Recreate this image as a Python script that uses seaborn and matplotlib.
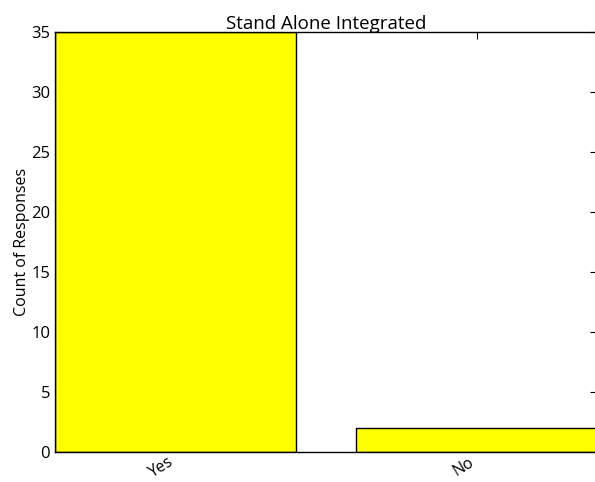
import matplotlib
matplotlib.use("Agg")
import matplotlib.pyplot as plt
import seaborn as sns
import pandas as pd

categories = ["Yes", "No"]
counts = [35, 2]
title = "Stand Alone Integrated"
ylabel = "Count of Responses"

sns.set_style("white")
plt.rcParams['font.family'] = ['Open Sans', 'DejaVu Sans']
plt.rcParams['text.color'] = 'black'
plt.rcParams['axes.labelcolor'] = 'black'
plt.rcParams['xtick.color'] = 'black'
plt.rcParams['ytick.color'] = 'black'

df = pd.DataFrame({"resp": categories, "count": counts})

fig = plt.figure(figsize=(5.95, 4.82), dpi=100)
ax = fig.add_axes([55/595, 30/482, 542/595, 420/482])
sns.barplot(data=df, x="resp", y="count", color="#ffff00", saturation=1,
            edgecolor="black", linewidth=1.0, width=0.8, ax=ax)
ax.set_xlim(-0.4, 1.4)
ax.set_ylim(0, 35)
ax.set_yticks(range(0, 36, 5))
ax.set_title(title, fontsize=13.5, pad=2, color="black")
ax.set_ylabel(ylabel, fontsize=11.5, color="black", labelpad=1)
ax.set_xlabel("")
for s in ax.spines.values():
    s.set_color("black")
    s.set_linewidth(1.0)
ax.tick_params(direction="in", length=5, width=0.8, top=True, right=True,
               labelsize=12, color="black", labelcolor="black", left=True, bottom=True)
ax.tick_params(axis="x", pad=2)
plt.setp(ax.get_xticklabels(), rotation=32, ha="right", fontsize=11.5)
fig.savefig("out.png", dpi=100)
